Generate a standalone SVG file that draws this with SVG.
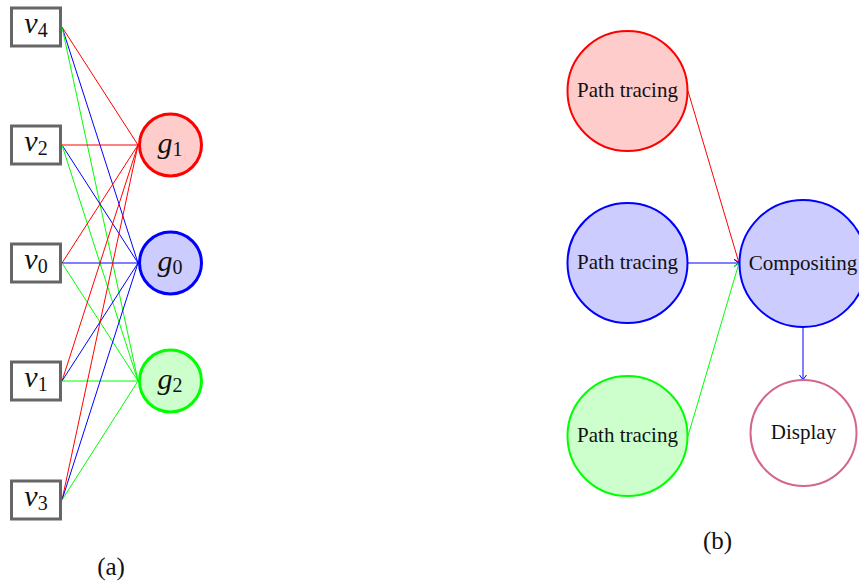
<svg xmlns="http://www.w3.org/2000/svg" width="859" height="585" viewBox="0 0 859 585">
<style>
.box{fill:#fff;stroke:#666;stroke-width:3}
.math{font-family:"Liberation Serif",serif;font-style:italic;font-size:30px;fill:#111}
.sub{font-style:normal;font-size:20px}
.lbl{font-family:"Liberation Serif",serif;font-size:21px;fill:#111;text-anchor:middle}
.cap{font-family:"Liberation Serif",serif;font-size:25px;fill:#111;text-anchor:middle}
.r{stroke:#f00;stroke-width:1;fill:none}
.b{stroke:#00f;stroke-width:1;fill:none}
.g{stroke:#0f0;stroke-width:1;fill:none}
</style>
<defs>
<marker id="ar" markerUnits="userSpaceOnUse" viewBox="-6 -4 7 8" refX="0" refY="0" markerWidth="7" markerHeight="8" orient="auto"><path d="M-5,-3.5 Q-1.5,-0.8 0,0 Q-1.5,0.8 -5,3.5" fill="none" stroke="#f00" stroke-width="1"/></marker>
<marker id="ab" markerUnits="userSpaceOnUse" viewBox="-6 -4 7 8" refX="0" refY="0" markerWidth="7" markerHeight="8" orient="auto"><path d="M-5,-3.5 Q-1.5,-0.8 0,0 Q-1.5,0.8 -5,3.5" fill="none" stroke="#00f" stroke-width="1"/></marker>
<marker id="ag" markerUnits="userSpaceOnUse" viewBox="-6 -4 7 8" refX="0" refY="0" markerWidth="7" markerHeight="8" orient="auto"><path d="M-5,-3.5 Q-1.5,-0.8 0,0 Q-1.5,0.8 -5,3.5" fill="none" stroke="#0f0" stroke-width="1"/></marker>
</defs>
<rect width="859" height="585" fill="#fff"/>
<g id="connectors-a">
<line class="r" x1="62" y1="27" x2="138" y2="145"/>
<line class="b" x1="62" y1="27" x2="138" y2="263"/>
<line class="g" x1="62" y1="27" x2="138" y2="381"/>
<line class="r" x1="62" y1="145" x2="138" y2="145"/>
<line class="b" x1="62" y1="145" x2="138" y2="263"/>
<line class="g" x1="62" y1="145" x2="138" y2="381"/>
<line class="r" x1="62" y1="263" x2="138" y2="145"/>
<line class="b" x1="62" y1="263" x2="138" y2="263"/>
<line class="g" x1="62" y1="263" x2="138" y2="381"/>
<line class="r" x1="62" y1="381" x2="138" y2="145"/>
<line class="b" x1="62" y1="381" x2="138" y2="263"/>
<line class="g" x1="62" y1="381" x2="138" y2="381"/>
<line class="r" x1="62" y1="500" x2="138" y2="145"/>
<line class="b" x1="62" y1="500" x2="138" y2="263"/>
<line class="g" x1="62" y1="500" x2="138" y2="381"/>
</g>
<g id="v4"><rect class="box" x="11.5" y="8" width="49" height="38"/><text class="math" x="36" y="33" text-anchor="middle">v<tspan class="sub" dy="4">4</tspan></text></g>
<g id="v2"><rect class="box" x="11.5" y="126" width="49" height="38"/><text class="math" x="36" y="151" text-anchor="middle">v<tspan class="sub" dy="4">2</tspan></text></g>
<g id="v0"><rect class="box" x="11.5" y="244" width="49" height="38"/><text class="math" x="36" y="269" text-anchor="middle">v<tspan class="sub" dy="4">0</tspan></text></g>
<g id="v1"><rect class="box" x="11.5" y="362" width="49" height="38"/><text class="math" x="36" y="387" text-anchor="middle">v<tspan class="sub" dy="4">1</tspan></text></g>
<g id="v3"><rect class="box" x="11.5" y="481" width="49" height="38"/><text class="math" x="36" y="506" text-anchor="middle">v<tspan class="sub" dy="4">3</tspan></text></g>
<g id="g1"><circle cx="170.5" cy="145" r="31" fill="#fcc" stroke="#f00" stroke-width="3"/><text class="math" x="170" y="153" text-anchor="middle">g<tspan class="sub" dy="3">1</tspan></text></g>
<g id="g0"><circle cx="170.5" cy="263" r="31" fill="#ccf" stroke="#00f" stroke-width="3"/><text class="math" x="170" y="271" text-anchor="middle">g<tspan class="sub" dy="3">0</tspan></text></g>
<g id="g2"><circle cx="170.5" cy="381" r="31" fill="#cfc" stroke="#0f0" stroke-width="3"/><text class="math" x="170" y="389" text-anchor="middle">g<tspan class="sub" dy="3">2</tspan></text></g>
<text class="cap" x="111" y="575">(a)</text>
<g id="connectors-b">
<line class="r" x1="688" y1="91" x2="739" y2="263" marker-end="url(#ar)"/>
<line class="b" x1="688" y1="263" x2="739" y2="263" marker-end="url(#ab)"/>
<line class="g" x1="688" y1="436" x2="739" y2="263" marker-end="url(#ag)"/>
<line class="b" x1="803" y1="327" x2="803" y2="380" marker-end="url(#ab)"/>
</g>
<g id="pt-red"><circle cx="627.5" cy="91" r="60" fill="#fcc" stroke="#f00" stroke-width="2"/><text class="lbl" x="627.5" y="97">Path tracing</text></g>
<g id="pt-blue"><circle cx="627.5" cy="263" r="60" fill="#ccf" stroke="#00f" stroke-width="2"/><text class="lbl" x="627.5" y="269">Path tracing</text></g>
<g id="pt-green"><circle cx="627.5" cy="436" r="60" fill="#cfc" stroke="#0f0" stroke-width="2"/><text class="lbl" x="627.5" y="442">Path tracing</text></g>
<g id="compositing"><circle cx="803" cy="263.5" r="63.5" fill="#ccf" stroke="#00f" stroke-width="2"/><text class="lbl" x="803" y="269.5">Compositing</text></g>
<g id="display"><circle cx="803.5" cy="433" r="53" fill="#fff" stroke="#d4658f" stroke-width="2"/><text class="lbl" x="803.5" y="439">Display</text></g>
<text class="cap" x="717.5" y="549">(b)</text>
</svg>
